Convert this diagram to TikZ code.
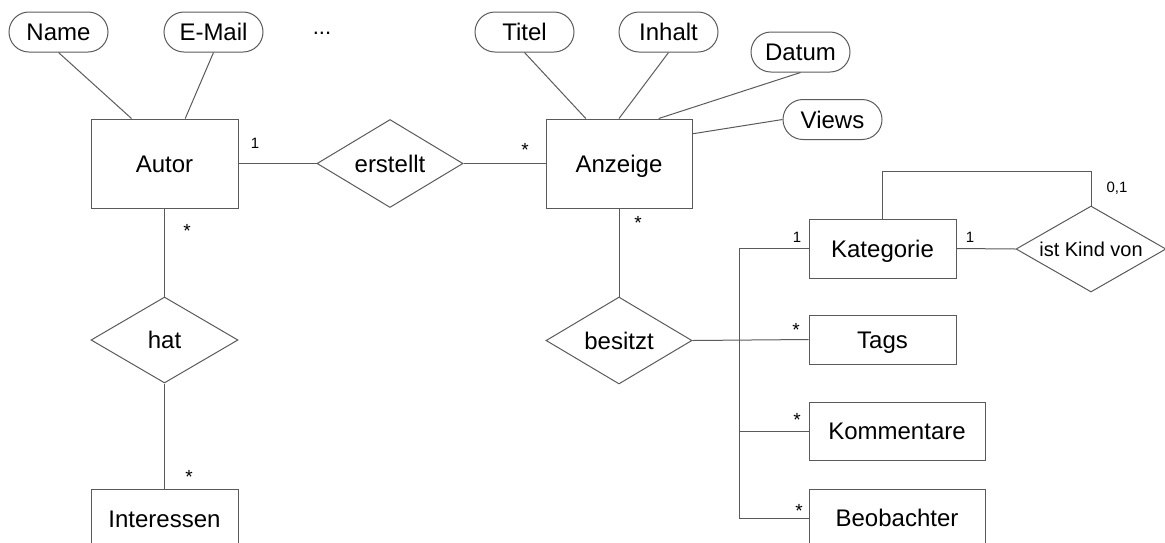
\documentclass[tikz,border=0pt]{standalone}
\usepackage{fontspec}
\setmainfont{Liberation Sans}
\usetikzlibrary{shapes.geometric,calc}
\definecolor{linegray}{HTML}{5A5A5A}
\begin{document}
\begin{tikzpicture}[x=1pt,y=-1pt,line width=1pt,
  every node/.style={text=black},
  big/.style={font=\fontsize{24}{28}\selectfont,text height=17pt,text depth=0pt},
  entity/.style={big,draw=linegray,rectangle,inner sep=0pt,minimum width=147pt,minimum height=89pt},
  attr/.style={big,draw=linegray,rectangle,rounded corners=20pt,inner sep=0pt,minimum width=99pt,minimum height=40pt},
  rel/.style={big,draw=linegray,diamond,aspect=1.7,inner sep=0pt,minimum width=146pt,minimum height=88pt},
  card/.style={font=\fontsize{15}{18}\selectfont,anchor=base,inner sep=0pt},
  star/.style={font=\fontsize{19}{22}\selectfont,anchor=base,inner sep=0pt},
  conn/.style={draw=linegray}]
\useasboundingbox (0,0) rectangle (1165,542);
\clip (0,0) rectangle (1165,542);

% entities
\node[entity] (autor) at (164.5,163.5) {Autor};
\node[entity,minimum width=146pt] (anzeige) at (619,163.5) {Anzeige};
\node[entity,minimum height=59pt] (interessen) at (164.5,518.5) {Interessen};
\node[entity,minimum height=59pt] (kategorie) at (882.5,248.5) {Kategorie};
\node[entity,minimum height=49pt] (tags) at (882.5,339.5) {Tags};
\node[entity,minimum width=176pt,minimum height=58pt] (kommentare) at (897,431) {Kommentare};
\node[entity,minimum width=176pt,minimum height=58pt] (beobachter) at (897,518) {Beobachter};

% relationships
\node[rel] (erstellt) at (390,163.5) {erstellt};
\node[rel,minimum width=147pt,minimum height=86pt] (hat) at (164.5,340) {hat};
\node[rel,minimum height=87pt] (besitzt) at (619,340.5) {besitzt};
\node[rel,minimum width=150pt,minimum height=86pt,font=\fontsize{20}{24}\selectfont,text height=14.3pt] (istkind) at (1091,249) {ist Kind von};

% attributes
\node[attr] (name) at (58.5,32) {Name};
\node[attr] (email) at (213.5,32) {E-Mail};
\node[font=\fontsize{22}{26}\selectfont,anchor=base,inner sep=0pt] (more) at (322,34) {...};
\node[attr] (titel) at (524.5,32) {Titel};
\node[attr] (inhalt) at (668.5,32) {Inhalt};
\node[attr] (datum) at (800.5,52) {Datum};
\node[attr] (views) at (832.5,119.5) {Views};

% attribute links
\draw[conn] (name.south) -- ($(autor.north west)!0.277!(autor.north east)$);
\draw[conn] (email.south) -- ($(autor.north west)!0.64!(autor.north east)$);
\draw[conn] (titel.south) -- ($(anzeige.north west)!0.274!(anzeige.north east)$);
\draw[conn] (inhalt.south) -- (anzeige.north);
\draw[conn] (datum.south) -- ($(anzeige.north west)!0.77!(anzeige.north east)$);
\draw[conn] (views.west) -- ($(anzeige.north east)!0.17!(anzeige.south east)$);

% relationship links
\draw[conn] (autor.east) -- (erstellt.west);
\draw[conn] (erstellt.east) -- (anzeige.west);
\draw[conn] (autor.south) -- (hat.north);
\draw[conn] (hat.south) -- (interessen.north);
\draw[conn] (anzeige.south) -- (besitzt.north);
\draw[conn] (besitzt.east) -- (tags.west);
\coordinate (bus) at (739,0);
\draw[conn] (kategorie.west) -- (kategorie.west -| bus) -- (beobachter.west -| bus) -- (beobachter.west);
\draw[conn] (kommentare.west -| bus) -- (kommentare.west);
\draw[conn] (kategorie.east) -- (istkind.west);
\draw[conn] (kategorie.north) -- ++(0,-47) -| (istkind.north);

% cardinalities
\node[card] (c1) at (255,148.5) {1};
\node[star] (c2) at (525,156) {*};
\node[star] (c3) at (638,229) {*};
\node[star] (c4) at (187,237) {*};
\node[star] (c5) at (189,483) {*};
\node[card] (c6) at (797,242.5) {1};
\node[card] (c7) at (970,242.5) {1};
\node[card] (c8) at (1117,192.5) {0,1};
\node[star] (c9) at (796,336) {*};
\node[star] (c10) at (797,426) {*};
\node[star] (c11) at (799,517) {*};
\end{tikzpicture}
\end{document}
